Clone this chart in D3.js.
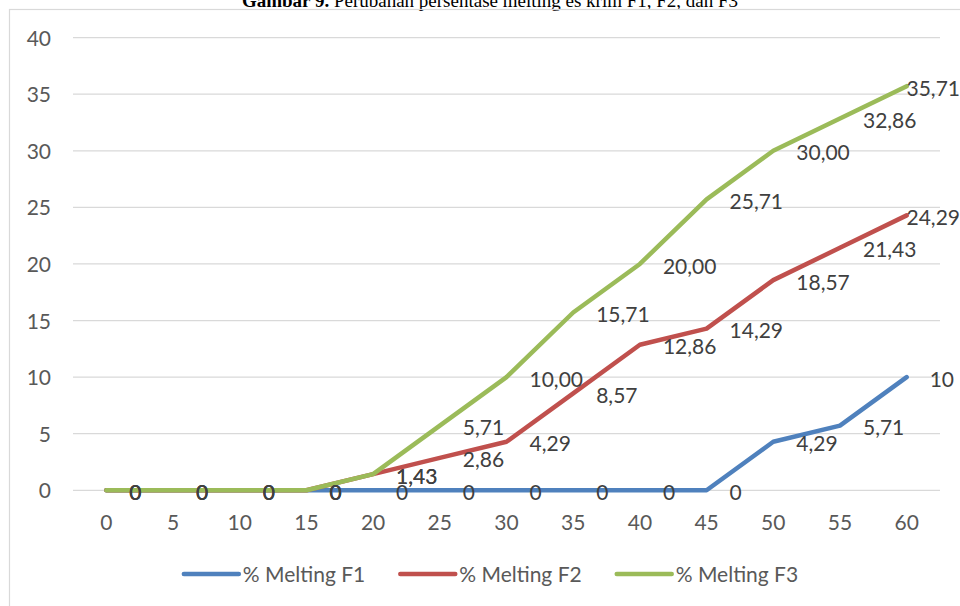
<!DOCTYPE html>
<html>
<head>
<meta charset="utf-8">
<script src="https://cdn.jsdelivr.net/npm/d3@7/dist/d3.min.js"></script>
<style>
  html, body { margin: 0; padding: 0; background: #fff; }
  svg { display: block; }
</style>
</head>
<body>
<svg id="chart" width="960" height="606"></svg>
<script>
// Minutes of observation (category axis)
const minutes = ["0", "5", "10", "15", "20", "25", "30", "35", "40", "45", "50", "55", "60"];

// Percentage melted for each formula
const meltF1 = [0, 0, 0, 0, 0, 0, 0, 0, 0, 0, 4.29, 5.71, 10];
const meltF2 = [0, 0, 0, 0, 1.43, 2.86, 4.29, 8.57, 12.86, 14.29, 18.57, 21.43, 24.29];
const meltF3 = [0, 0, 0, 0, 1.43, 5.71, 10.00, 15.71, 20.00, 25.71, 30.00, 32.86, 35.71];

// Printed labels for each point
const labelsF1 = ["0", "0", "0", "0", "0", "0", "0", "0", "0", "0", "4,29", "5,71", "10"];
const labelsF2 = ["0", "0", "0", "0", "1,43", "2,86", "4,29", "8,57", "12,86", "14,29", "18,57", "21,43", "24,29"];
const labelsF3 = ["0", "0", "0", "0", "1,43", "5,71", "10,00", "15,71", "20,00", "25,71", "30,00", "32,86", "35,71"];

const seriesNames = ["% Melting F1", "% Melting F2", "% Melting F3"];
const yTicks = [0, 5, 10, 15, 20, 25, 30, 35, 40];

const titleBold = "Gambar 9.";
const titleRest = " Perubahan persentase melting es krim F1, F2, dan F3";

const W = 960, H = 606;
const plot = { left: 73, right: 940, top: 37.6, bottom: 490.3 };
const colors = ["#4f81bd", "#c0504d", "#9bbb59"];
const font = "Lato, 'Open Sans', sans-serif";

const series = [
  { name: seriesNames[0], values: meltF1, labels: labelsF1, color: colors[0] },
  { name: seriesNames[1], values: meltF2, labels: labelsF2, color: colors[1] },
  { name: seriesNames[2], values: meltF3, labels: labelsF3, color: colors[2] }
];

const svg = d3.select("#chart");

// Figure caption above the chart frame
const title = svg.append("text")
  .attr("x", 490).attr("y", 6.5)
  .attr("text-anchor", "middle")
  .style("font-family", "'Liberation Serif', 'Times New Roman', serif")
  .style("font-size", "19px")
  .attr("fill", "#000");
title.append("tspan").style("font-weight", "bold").text(titleBold);
title.append("tspan").text(titleRest);

// Chart frame
svg.append("rect")
  .attr("x", 9.5).attr("y", 9.5)
  .attr("width", W + 10).attr("height", H + 10)
  .attr("fill", "none")
  .attr("stroke", "#d9d9d9")
  .attr("stroke-width", 1.2);

const x = d3.scaleBand().domain(minutes).range([plot.left, plot.right]);
const y = d3.scaleLinear().domain([0, 40]).range([plot.bottom, plot.top]);
const px = (m) => x(m) + x.bandwidth() / 2;

// Horizontal gridlines
svg.append("g")
  .selectAll("line")
  .data(yTicks)
  .join("line")
  .attr("x1", plot.left).attr("x2", plot.right)
  .attr("y1", d => y(d)).attr("y2", d => y(d))
  .attr("stroke", "#d9d9d9")
  .attr("stroke-width", 1.3);

// Y axis labels
const yAxis = d3.axisLeft(y).tickValues(yTicks).tickSize(0).tickPadding(0);
const gy = svg.append("g").attr("transform", "translate(51,0)").call(yAxis);
gy.select(".domain").remove();
gy.selectAll("text")
  .style("font-family", font).style("font-size", "21px")
  .attr("fill", "#595959").attr("dy", "0.36em");

// X axis labels
const xAxis = d3.axisBottom(x).tickSize(0).tickPadding(0);
const gx = svg.append("g").attr("transform", "translate(0,522)").call(xAxis);
gx.select(".domain").remove();
gx.selectAll("text")
  .style("font-family", font).style("font-size", "21px")
  .attr("fill", "#595959").attr("dy", "0.36em");

// Lines
const line = d3.line()
  .x((d, i) => px(minutes[i]))
  .y(d => y(d));

svg.append("g")
  .selectAll("path")
  .data(series)
  .join("path")
  .attr("d", s => line(s.values))
  .attr("fill", "none")
  .attr("stroke", s => s.color)
  .attr("stroke-width", 4.5)
  .attr("stroke-linejoin", "round")
  .attr("stroke-linecap", "round");

// Data labels, placed to the right of each point
const labelLayer = svg.append("g")
  .style("font-family", font).style("font-size", "21px")
  .attr("fill", "#404040");
series.forEach(s => {
  s.values.forEach((v, i) => {
    const t = labelLayer.append("text")
      .attr("x", px(minutes[i]) + 23)
      .attr("y", y(v) + 2)
      .attr("dy", "0.36em")
      .text(s.labels[i]);
    const w = t.node().getComputedTextLength();
    const right = px(minutes[i]) + 23 + w;
    if (right > W) t.attr("x", W - w);
  });
});

// Legend
const legend = svg.append("g");
const items = [];
series.forEach(s => {
  const g = legend.append("g");
  g.append("line")
    .attr("x1", 0).attr("x2", 55)
    .attr("y1", 0).attr("y2", 0)
    .attr("stroke", s.color).attr("stroke-width", 4.5)
    .attr("stroke-linecap", "round");
  const t = g.append("text")
    .attr("x", 59).attr("dy", "0.36em")
    .style("font-family", font).style("font-size", "21px")
    .attr("fill", "#595959")
    .text(s.name);
  items.push({ g, w: 59 + t.node().getComputedTextLength() });
});
const gap = 35;
const total = d3.sum(items, d => d.w) + gap * (items.length - 1);
let cx = 491 - total / 2;
items.forEach(it => {
  it.g.attr("transform", `translate(${cx},574)`);
  cx += it.w + gap;
});
</script>
</body>
</html>
